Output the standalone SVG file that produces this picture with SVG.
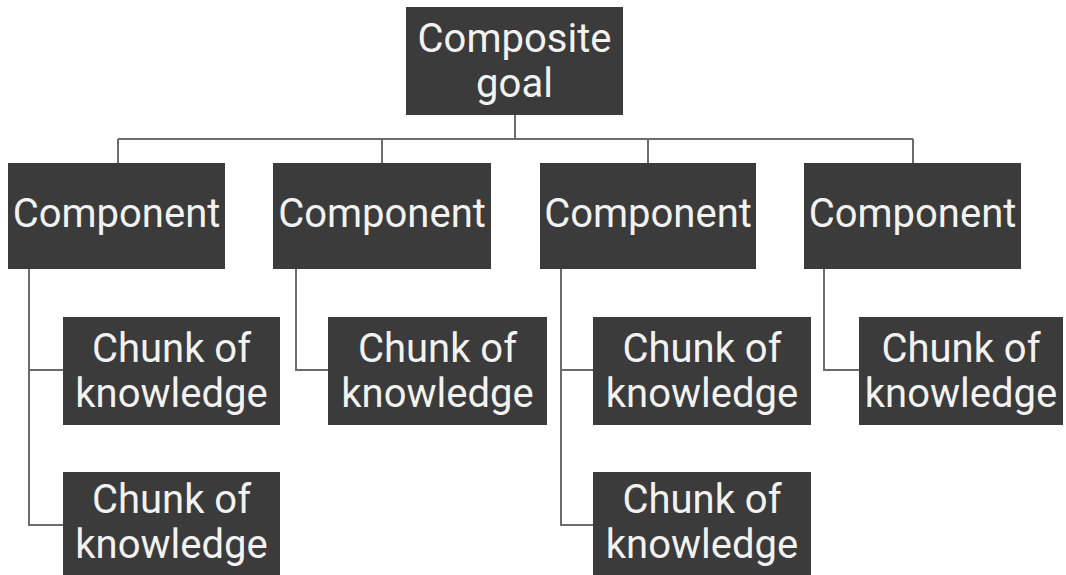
<svg xmlns="http://www.w3.org/2000/svg" width="1066" height="575" viewBox="0 0 1066 575">
<style>
.box{fill:#3b3b3b}
.t{fill:#f2f2f2;font-family:Roboto,"Liberation Sans",sans-serif;font-size:40px;text-anchor:middle}
.ln{stroke:#6b6b6b;stroke-width:2;fill:none}
</style>
<rect width="1066" height="575" fill="#ffffff"/>
<g id="connectors">
<path class="ln" d="M515 115V139M118 139H913M118 139V163M382 139V163M648 139V163M913 139V163"/>
<path class="ln" d="M29 269V525H63M29 370H63"/>
<path class="ln" d="M296 269V370H328"/>
<path class="ln" d="M561 269V525H593M561 370H593"/>
<path class="ln" d="M824 269V370H859"/>
</g>
<g id="goal"><rect class="box" x="406" y="7" width="217" height="108"/><text class="t" x="514.5" y="52">Composite</text><text class="t" x="514.5" y="97">goal</text></g>
<g id="comp1"><rect class="box" x="8" y="163" width="217" height="106"/><text class="t" x="116.5" y="227">Component</text></g>
<g id="comp2"><rect class="box" x="273" y="163" width="218" height="106"/><text class="t" x="382" y="227">Component</text></g>
<g id="comp3"><rect class="box" x="540" y="163" width="216" height="106"/><text class="t" x="648" y="227">Component</text></g>
<g id="comp4"><rect class="box" x="804" y="163" width="217" height="106"/><text class="t" x="912.5" y="227">Component</text></g>
<g id="chunk1a"><rect class="box" x="63" y="317" width="217" height="108"/><text class="t" x="171.5" y="362">Chunk of</text><text class="t" x="171.5" y="407">knowledge</text></g>
<g id="chunk1b"><rect class="box" x="63" y="472" width="217" height="108"/><text class="t" x="171.5" y="513">Chunk of</text><text class="t" x="171.5" y="558">knowledge</text></g>
<g id="chunk2a"><rect class="box" x="328" y="317" width="219" height="108"/><text class="t" x="437.5" y="362">Chunk of</text><text class="t" x="437.5" y="407">knowledge</text></g>
<g id="chunk3a"><rect class="box" x="593" y="317" width="218" height="108"/><text class="t" x="702" y="362">Chunk of</text><text class="t" x="702" y="407">knowledge</text></g>
<g id="chunk3b"><rect class="box" x="593" y="472" width="218" height="108"/><text class="t" x="702" y="513">Chunk of</text><text class="t" x="702" y="558">knowledge</text></g>
<g id="chunk4a"><rect class="box" x="859" y="317" width="204" height="108"/><text class="t" x="961" y="362">Chunk of</text><text class="t" x="961" y="407">knowledge</text></g>
</svg>
